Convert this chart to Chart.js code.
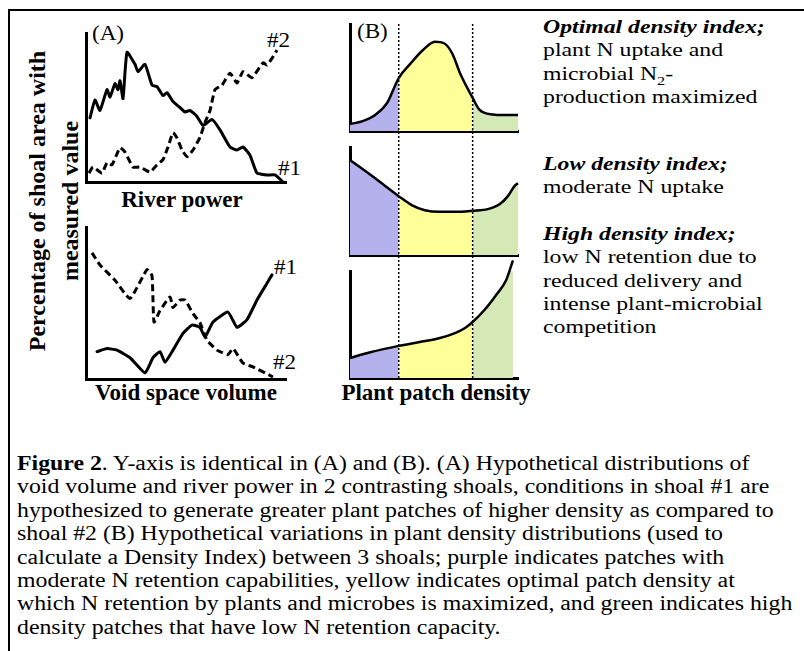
<!DOCTYPE html>
<html><head><meta charset="utf-8">
<script src="https://cdn.jsdelivr.net/npm/chart.js@4.4.0/dist/chart.umd.min.js"></script>
<style>
html,body{margin:0;padding:0;background:#fff;}
#fig{position:relative;width:804px;height:651px;overflow:hidden;background:#fff;font-family:"Liberation Serif","Times New Roman",serif;color:#000;}
#fig canvas{position:absolute;}
.t{position:absolute;white-space:nowrap;transform-origin:0 0;font-family:"Liberation Serif",serif;}
.sm{font-size:21px;line-height:21px;transform:scaleX(1.1);}
.bl{font-size:23px;line-height:23px;font-weight:bold;width:240px;text-align:center;}
.yt{font-size:24px;line-height:28px;font-weight:bold;width:340px;height:28px;text-align:center;transform-origin:50% 50%;transform:rotate(-90deg);}
.rt{font-size:19px;line-height:23.3px;transform:scaleX(1.25);}
.cap{font-size:20px;line-height:23.4px;transform:scaleX(1.19);left:17px;top:452px;}
.hd{font-weight:bold;font-style:italic;}
.frame{position:absolute;background:#000;}
</style></head>
<body>
<div id="fig">
  <div class="frame" style="left:8px;top:9px;width:796px;height:2px;"></div>
  <div class="frame" style="left:8px;top:9px;width:2px;height:642px;"></div>

  <div class="t yt" style="left:-133px;top:187px;">Percentage of shoal area with</div>
  <div class="t yt" style="left:-100px;top:187px;">measured value</div>

  <div class="t sm" style="left:92px;top:23px;">(A)</div>
  <div class="t sm" style="left:267px;top:30px;">#2</div>
  <div class="t sm" style="left:278px;top:158px;">#1</div>
  <div class="t sm" style="left:274px;top:257px;">#1</div>
  <div class="t sm" style="left:273px;top:352px;">#2</div>
  <div class="t sm" style="left:357px;top:21px;">(B)</div>

  <div class="t bl" style="left:62px;top:188px;">River power</div>
  <div class="t bl" style="left:66px;top:381px;">Void space volume</div>
  <div class="t bl" style="left:316px;top:381px;">Plant patch density</div>

  <div class="t rt" style="left:543px;top:15px;"><span class="hd">Optimal density index;</span><br>plant N uptake and<br>microbial N<sub style="font-size:13px;line-height:0;">2</sub>-<br>production maximized</div>
  <div class="t rt" style="left:543px;top:152px;"><span class="hd">Low density index;</span><br>moderate N uptake</div>
  <div class="t rt" style="left:543px;top:222px;"><span class="hd">High density index;</span><br>low N retention due to<br>reduced delivery and<br>intense plant-microbial<br>competition</div>

  <div class="t cap"><b>Figure 2</b>. Y-axis is identical in (A) and (B). (A) Hypothetical distributions of<br>void volume and river power in 2 contrasting shoals, conditions in shoal #1 are<br>hypothesized to generate greater plant patches of higher density as compared to<br>shoal #2 (B) Hypothetical variations in plant density distributions (used to<br>calculate a Density Index) between 3 shoals; purple indicates patches with<br>moderate N retention capabilities, yellow indicates optimal patch density at<br>which N retention by plants and microbes is maximized, and green indicates high<br>density patches that have low N retention capacity.</div>
</div>
<script>
// ---------- DATA (x, y on 0-100 relative scales) ----------
// Panel A, top: river power
const riverShoal1 = [[2,43],[4.5,55],[7,48],[10.5,62],[12,57],[14.5,66],[16,62],[17,68],[18.5,56],[20.5,87],[24.5,79],[26,74],[29.5,79],[33,65],[35.5,64],[38.5,58],[40.5,60],[43.5,54],[47,50],[49.5,47],[52,48],[55.5,44],[58.5,38],[63,42],[67,35],[72,23.5],[75.5,21.5],[78.5,23.5],[82,18],[85.5,6],[90.5,4.7],[94.5,4.7],[98.5,0]];
const riverShoal2 = [[1.5,6],[3.5,10],[8,6],[10.5,13],[13,11.5],[17,23],[19.5,20],[23.5,10],[27,10],[32,6.7],[35.5,11.5],[38.5,15],[41,23.5],[43.5,33],[45.5,29.5],[48,21.5],[50.5,17],[53.5,21.5],[57,30],[59.5,40],[62,48],[64.5,62],[68,65],[72,73],[75.5,66.5],[78.5,74],[83,70],[88.5,80],[90.5,78.5],[93,83],[95.5,88.5]];
// Panel A, bottom: void space volume
const voidShoal1 = [[5.5,18],[10.5,20],[15.5,19],[22,14],[29.5,4],[33.5,14],[37,18],[39.5,11],[43.5,19],[48.5,30],[53,35.5],[57,34],[59.5,27.5],[63.5,37.5],[71,44],[75.5,34],[80.5,39],[85.5,52],[90.5,63],[93,68.5]];
const voidShoal2 = [[3,83],[7,75],[14.5,65],[22,53],[30.5,72],[33,68],[34,37.5],[37,45],[42,54],[43.5,47],[47,52],[49.5,52],[53.5,43],[57,37],[60.5,25.5],[65.5,19],[71,16],[73.5,20],[78.5,10.5],[83.5,8],[93.5,1.3]];
// Panel B: plant patch density distributions
const optimalIndex = [[0,6.5],[8,9.5],[15,15],[22,26],[29,49.5],[36,63],[43,75],[50.5,83.5],[56,82],[61,72],[65.5,54],[73,31],[77,20],[85,15.5],[92,15],[100,15]];
const lowIndex = [[0,88],[15,71],[29,54.5],[37,46],[44.5,41.5],[53.5,40],[62.5,40],[73,41],[82,42.5],[89,47],[94,54.5],[98,64],[100,66.5]];
const highIndex = [[0,18.7],[12,24],[29,30],[41.5,33.6],[53.5,37.4],[62.5,42],[68.5,46.7],[73,52.3],[80,63.5],[87,77.6],[93,91.6],[97,110]];
// Density class boundaries (x on plant patch density axis)
const densityBounds = [29, 73];
const zoneColors = ['#b4b1ec', '#ffff99', '#d4e9b6'];

// ---------- helpers ----------
const fig = document.getElementById('fig');
const toXY = arr => arr.map(p => ({x: p[0], y: p[1]}));
function axis(show) {
  return {type:'linear', min:0, max:100, display:show,
    grid:{display:false, drawTicks:false},
    border:{display:true, color:'#000', width:3},
    ticks:{display:false}};
}
function mk(area, datasets, o) {
  o = o || {};
  const pad = o.pad != null ? o.pad : 6, padTop = o.padTop != null ? o.padTop : pad;
  const c = document.createElement('canvas');
  const W = area.w + 2*pad, H = area.h + padTop + pad;
  c.width = W; c.height = H;
  c.style.width = W + 'px'; c.style.height = H + 'px';
  c.style.left = (area.l - pad) + 'px'; c.style.top = (area.t - padTop) + 'px';
  fig.appendChild(c);
  const ymax = o.ymax || 100;
  return new Chart(c, {type:'line', data:{datasets},
    options:{responsive:false, animation:false, devicePixelRatio:1,
      layout:{padding:{left:pad, right:pad, top:padTop, bottom:pad}},
      plugins:{legend:{display:false}, tooltip:{enabled:false}},
      elements:{point:{radius:0}},
      scales:{x:axis(o.axes !== false), y:Object.assign(axis(o.axes !== false), {max:ymax})}}});
}
const solid = d => ({data:toXY(d), borderColor:'#000', borderWidth:3, tension:0.15, fill:false, borderJoinStyle:'round', borderCapStyle:'round'});
const dashed = d => ({data:toXY(d), borderColor:'#000', borderWidth:3, borderDash:[7,4], tension:0.15, fill:false});
function zoned(d) {
  return {data:toXY(d), borderColor:'#000', borderWidth:2.5, cubicInterpolationMode:'monotone',
    fill:'origin', backgroundColor:zoneColors[1], clip:false,
    segment:{backgroundColor: ctx => {
      const x = d[ctx.p0DataIndex][0];
      return x < densityBounds[0] ? zoneColors[0] : (x < densityBounds[1] ? zoneColors[1] : zoneColors[2]);
    }}};
}

// ---------- charts ----------
mk({l:86, t:33, w:200, h:149}, [solid(riverShoal1), dashed(riverShoal2)]);
mk({l:86, t:227, w:200, h:152}, [solid(voidShoal1), dashed(voidShoal2)]);
mk({l:350, t:24, w:168, h:107}, [zoned(optimalIndex)]);
mk({l:350, t:147, w:168, h:108}, [zoned(lowIndex)]);
mk({l:350, t:271, w:168, h:107}, [zoned(highIndex)], {padTop:16});
// dotted class boundaries spanning all three B panels
mk({l:350, t:24, w:168, h:354}, densityBounds.map(b => ({
  data:[{x:b, y:0},{x:b, y:100}], borderColor:'#000', borderWidth:1.5, borderDash:[2,2], fill:false
})), {axes:false});
</script>
</body></html>
